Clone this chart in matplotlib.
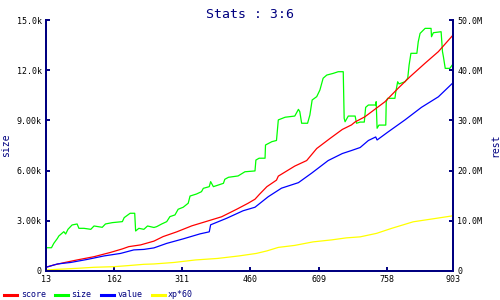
import matplotlib
matplotlib.use("Agg")
import matplotlib.pyplot as plt
from matplotlib.ticker import FuncFormatter

# size (left axis)
size_x = [13, 25, 30, 38, 41, 52, 56, 61, 70, 81, 85, 96, 111, 118, 136, 143, 158, 180, 184, 197,
          207, 209, 216, 227, 235, 249, 255, 266, 277, 284, 295, 302, 313, 324, 328, 342, 353, 357,
          370, 373, 379, 390, 401, 404, 412, 433, 448, 470, 472, 479, 492, 493, 507, 517, 521, 536,
          557, 565, 568, 572, 585, 590, 595, 605, 612, 619, 627, 641, 652, 663, 665, 667, 674, 689,
          692, 700, 709, 712, 718, 734, 735, 737, 741, 756, 757, 760, 776, 778, 782, 785, 798, 804,
          807, 811, 824, 827, 831, 842, 855, 856, 860, 877, 880, 882, 886, 896, 903]
size_y = [1390, 1390, 1650, 1950, 2090, 2350, 2210, 2490, 2750, 2810, 2550, 2550, 2490, 2690, 2610,
          2810, 2890, 2950, 3190, 3450, 3450, 2390, 2550, 2490, 2690, 2600, 2650, 2810, 2950, 3250,
          3350, 3690, 3810, 4050, 4480, 4600, 4740, 4940, 5040, 5340, 5040, 5140, 5240, 5480, 5600,
          5680, 5930, 5980, 6630, 6740, 6740, 7530, 7730, 7800, 9030, 9190, 9260, 9660, 9520, 8830,
          8830, 9320, 10220, 10420, 10820, 11520, 11710, 11810, 11910, 11910, 9130, 8920, 9260, 9260,
          8830, 8900, 8900, 9780, 9920, 9920, 10120, 8530, 8720, 8720, 10120, 10320, 10320, 10720,
          11310, 11180, 11310, 11520, 12310, 13010, 13010, 13700, 14200, 14500, 14500, 14000, 14240,
          14300, 13110, 12810, 12110, 12110, 12370]

# score (right axis, millions)
score_x = [13, 30, 52, 81, 118, 154, 180, 194, 220, 249, 269, 299, 332, 361, 397, 430, 455, 470,
           480, 496, 517, 521, 557, 583, 605, 634, 661, 681, 689, 710, 754, 783, 809, 842, 871, 903]
score_y = [0.74, 1.2, 1.65, 2.2, 2.85, 3.7, 4.4, 4.85, 5.2, 5.95, 6.85, 7.8, 9.0, 9.8, 10.8, 12.3,
           13.5, 14.3, 15.3, 16.8, 18.1, 18.9, 20.9, 22.0, 24.4, 26.4, 28.2, 29.1, 29.7, 30.7, 33.7,
           36.4, 38.7, 41.4, 43.7, 47.0]

# value (right axis, millions)
value_x = [13, 38, 67, 103, 140, 176, 205, 227, 249, 277, 313, 350, 370, 373, 408, 444, 470, 499,
           528, 565, 594, 630, 661, 681, 700, 718, 734, 737, 761, 798, 834, 871, 903]
value_y = [0.74, 1.4, 1.7, 2.3, 3.0, 3.5, 4.2, 4.3, 4.6, 5.5, 6.4, 7.4, 7.8, 9.2, 10.5, 12.0, 12.7,
           14.8, 16.5, 17.6, 19.5, 22.0, 23.4, 24.0, 24.6, 26.0, 26.7, 26.1, 27.7, 30.1, 32.6, 34.7,
           37.5]

# xp*60 (right axis, millions)
xp_x = [13, 38, 81, 118, 162, 191, 227, 249, 293, 340, 388, 435, 473, 496, 521, 557, 597, 638, 670,
        700, 736, 769, 816, 867, 903]
xp_y = [0.2, 0.33, 0.53, 0.74, 0.86, 1.06, 1.33, 1.4, 1.7, 2.2, 2.5, 3.0, 3.5, 4.0, 4.7, 5.1, 5.8,
        6.2, 6.6, 6.8, 7.5, 8.5, 9.8, 10.5, 11.0]

x_ticks = [13, 162, 311, 460, 609, 758, 903]
left_ticks = [0, 3000, 6000, 9000, 12000, 15000]
right_ticks = [0, 10, 20, 30, 40, 50]

NAVY = "#000080"
MONO = "DejaVu Sans Mono"

fig = plt.figure(figsize=(5, 3), dpi=100)
fig.patch.set_facecolor("white")
ax = fig.add_axes([0.092, 0.0967, 0.814, 0.8366])
ax2 = ax.twinx()

l_size, = ax.plot(size_x, size_y, color="#00FF00", linewidth=0.9, label="size")
l_score, = ax2.plot(score_x, score_y, color="#FF0000", linewidth=0.9, label="score")
l_value, = ax2.plot(value_x, value_y, color="#0000FF", linewidth=0.9, label="value")
l_xp, = ax2.plot(xp_x, xp_y, color="#FFFF00", linewidth=0.9, label="xp*60")

ax.set_xlim(13, 903)
ax.set_ylim(0, 15000)
ax2.set_ylim(0, 50)
ax.set_xticks(x_ticks)
ax.set_yticks(left_ticks)
ax2.set_yticks(right_ticks)


def fmt_k(v, p):
    if v == 0:
        return "0"
    k = v / 1000
    return f"{k:.1f}k" if k >= 10 else f"{k:.2f}k"


def fmt_m(v, p):
    if v == 0:
        return "0"
    return f"{v:.1f}M" if v >= 10 else f"{v:.2f}M"


ax.yaxis.set_major_formatter(FuncFormatter(fmt_k))
ax2.yaxis.set_major_formatter(FuncFormatter(fmt_m))

for a in (ax, ax2):
    for s in a.spines.values():
        s.set_color(NAVY)
        s.set_linewidth(1.4)
    a.spines["top"].set_visible(False)
    a.tick_params(direction="in", length=3, width=1.4, color=NAVY, labelsize=6, labelcolor="black", pad=3)
    for lbl in a.get_xticklabels() + a.get_yticklabels():
        lbl.set_family(MONO)

ax.set_ylabel("size", color=NAVY, fontsize=7, family=MONO, labelpad=4)
ax2.set_ylabel("rest", color=NAVY, fontsize=7, family=MONO, rotation=90, labelpad=6)

fig.text(0.5, 0.975, "Stats : 3:6", ha="center", va="top", color=NAVY, fontsize=9.5, family=MONO)

leg = fig.legend(handles=[l_score, l_size, l_value, l_xp], loc="center left",
                 bbox_to_anchor=(0.008, 0.0167), bbox_transform=fig.transFigure,
                 ncol=4, frameon=False, borderpad=0, borderaxespad=0,
                 handlelength=1.6, handletextpad=0.4, columnspacing=1.1,
                 prop={"family": MONO, "size": 6})
for h in leg.get_lines():
    h.set_linewidth(2.2)
for t in leg.get_texts():
    t.set_color(NAVY)

fig.savefig("out.png", dpi=100)
